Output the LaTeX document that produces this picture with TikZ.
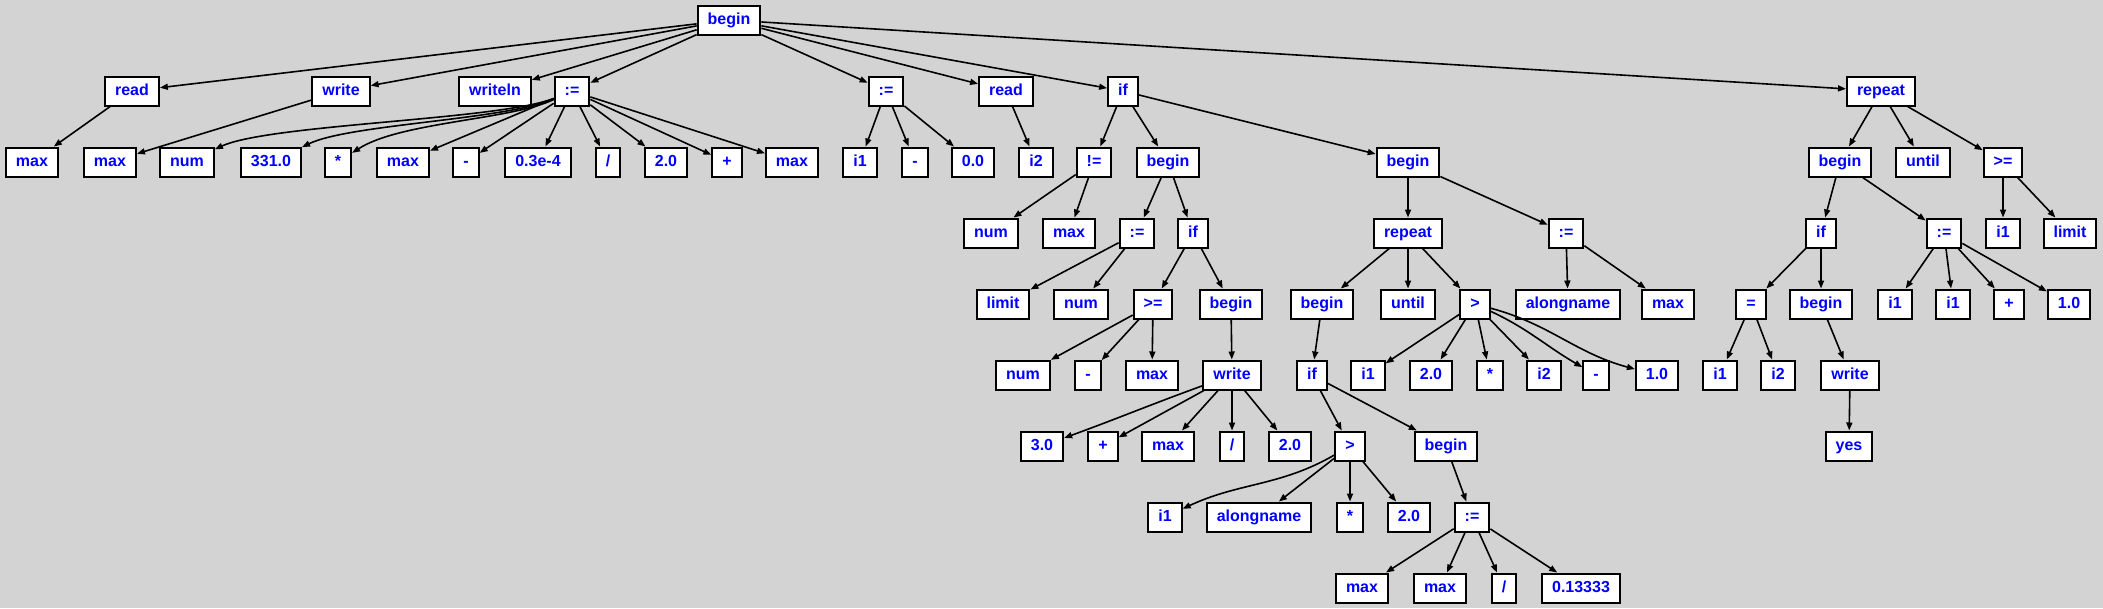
\documentclass[tikz,border=0pt]{standalone}
\usepackage{fontspec}
\setsansfont{Liberation Sans}
\usetikzlibrary{arrows.meta}
\definecolor{bggray}{HTML}{D3D3D3}

\begin{document}
\begin{tikzpicture}[x=1pt,y=1pt,
	box/.style={draw=black,fill=white,line width=2pt,text=blue,font=\sffamily\bfseries\fontsize{16}{16}\selectfont,minimum height=29pt,inner xsep=10pt,inner ysep=0pt,text height=11.5pt,text depth=3.5pt},
	edge/.style={line width=1.6pt,-{Triangle[length=8pt,width=6pt]}}]
	\fill[bggray] (0,0) rectangle (2103,-608);
	\useasboundingbox (0,0) rectangle (2103,-608);
	\node[box] (root) at (729,-20) {begin};
	\node[box] (rd) at (132,-91) {read};
	\node[box] (wr) at (341,-91) {write};
	\node[box] (wln) at (495,-91) {writeln};
	\node[box] (asA) at (572,-91) {:=};
	\node[box] (asB) at (886,-91) {:=};
	\node[box] (rdB) at (1006,-91) {read};
	\node[box] (ifA) at (1123,-91) {if};
	\node[box] (rep) at (1881,-91) {repeat};
	\node[box] (mxA) at (32,-162) {max};
	\node[box] (mxB) at (110,-162) {max};
	\node[box] (numA) at (187,-162) {num};
	\node[box] (cA) at (271,-162) {331.0};
	\node[box] (mulA) at (338,-162) {*};
	\node[box] (mxC) at (403,-162) {max};
	\node[box] (subA) at (466,-162) {-};
	\node[box] (cB) at (538,-162) {0.3e-4};
	\node[box] (divA) at (608,-162) {/};
	\node[box] (cC) at (666,-162) {2.0};
	\node[box] (addA) at (727,-162) {+};
	\node[box] (mxD) at (792,-162) {max};
	\node[box] (iA) at (860,-162) {i1};
	\node[box] (subB) at (915,-162) {-};
	\node[box] (cD) at (973,-162) {0.0};
	\node[box] (iB) at (1036,-162) {i2};
	\node[box] (neA) at (1094,-162) {!=};
	\node[box] (bgA) at (1168,-162) {begin};
	\node[box] (bgB) at (1408,-162) {begin};
	\node[box] (bgC) at (1840,-162) {begin};
	\node[box] (untA) at (1923,-162) {until};
	\node[box] (geA) at (2003,-162) {>=};
	\node[box] (numB) at (991,-233) {num};
	\node[box] (mxE) at (1069,-233) {max};
	\node[box] (asC) at (1137,-233) {:=};
	\node[box] (ifB) at (1193,-233) {if};
	\node[box] (repB) at (1408,-233) {repeat};
	\node[box] (asD) at (1566,-233) {:=};
	\node[box] (ifC) at (1821,-233) {if};
	\node[box] (asE) at (1944,-233) {:=};
	\node[box] (iC) at (2003,-233) {i1};
	\node[box] (limA) at (2070,-233) {limit};
	\node[box] (limB) at (1003,-304) {limit};
	\node[box] (numC) at (1081,-304) {num};
	\node[box] (geB) at (1153,-304) {>=};
	\node[box] (bgD) at (1231,-304) {begin};
	\node[box] (bgE) at (1322,-304) {begin};
	\node[box] (untB) at (1408,-304) {until};
	\node[box] (gtA) at (1475,-304) {>};
	\node[box] (alA) at (1568,-304) {alongname};
	\node[box] (mxF) at (1668,-304) {max};
	\node[box] (eqA) at (1751,-304) {=};
	\node[box] (bgF) at (1821,-304) {begin};
	\node[box] (iD) at (1895,-304) {i1};
	\node[box] (iE) at (1953,-304) {i1};
	\node[box] (addB) at (2009,-304) {+};
	\node[box] (cE) at (2069,-304) {1.0};
	\node[box] (numD) at (1023,-375) {num};
	\node[box] (subC) at (1088,-375) {-};
	\node[box] (mxG) at (1152,-375) {max};
	\node[box] (wrB) at (1232,-375) {write};
	\node[box] (ifD) at (1312,-375) {if};
	\node[box] (iF) at (1368,-375) {i1};
	\node[box] (cF) at (1431,-375) {2.0};
	\node[box] (mulB) at (1490,-375) {*};
	\node[box] (iG) at (1544,-375) {i2};
	\node[box] (subD) at (1596,-375) {-};
	\node[box] (cG) at (1657,-375) {1.0};
	\node[box] (iH) at (1720,-375) {i1};
	\node[box] (iI) at (1778,-375) {i2};
	\node[box] (wrC) at (1850,-375) {write};
	\node[box] (cH) at (1042,-446) {3.0};
	\node[box] (addC) at (1103,-446) {+};
	\node[box] (mxH) at (1168,-446) {max};
	\node[box] (divB) at (1232,-446) {/};
	\node[box] (cI) at (1290,-446) {2.0};
	\node[box] (gtB) at (1350,-446) {>};
	\node[box] (bgG) at (1446,-446) {begin};
	\node[box] (yes) at (1849,-446) {yes};
	\node[box] (iJ) at (1165,-517) {i1};
	\node[box] (alB) at (1259,-517) {alongname};
	\node[box] (mulC) at (1350,-517) {*};
	\node[box] (cJ) at (1409,-517) {2.0};
	\node[box] (asF) at (1472,-517) {:=};
	\node[box] (mxI) at (1362,-588) {max};
	\node[box] (mxJ) at (1440,-588) {max};
	\node[box] (divC) at (1504,-588) {/};
	\node[box] (cK) at (1581,-588) {0.13333};
	\draw[edge] (root) -- (rd);
	\draw[edge] (root) -- (wr);
	\draw[edge] (root) -- (wln);
	\draw[edge] (root) -- (asA);
	\draw[edge] (root) -- (asB);
	\draw[edge] (root) -- (rdB);
	\draw[edge] (root) -- (ifA);
	\draw[edge] (root) -- (rep);
	\draw[edge] (rd) -- (mxA);
	\draw[edge] (wr) -- (mxB);
	\draw[edge] (asA) .. controls (500,-120) and (270,-124) .. (numA);
	\draw[edge] (asA) .. controls (505,-120) and (350,-124) .. (cA);
	\draw[edge] (asA) .. controls (510,-120) and (400,-122) .. (mulA);
	\draw[edge] (asA) -- (mxC);
	\draw[edge] (asA) -- (subA);
	\draw[edge] (asA) -- (cB);
	\draw[edge] (asA) -- (divA);
	\draw[edge] (asA) -- (cC);
	\draw[edge] (asA) -- (addA);
	\draw[edge] (asA) -- (mxD);
	\draw[edge] (asB) -- (iA);
	\draw[edge] (asB) -- (subB);
	\draw[edge] (asB) -- (cD);
	\draw[edge] (rdB) -- (iB);
	\draw[edge] (ifA) -- (neA);
	\draw[edge] (ifA) -- (bgA);
	\draw[edge] (ifA) -- (bgB);
	\draw[edge] (rep) -- (bgC);
	\draw[edge] (rep) -- (untA);
	\draw[edge] (rep) -- (geA);
	\draw[edge] (neA) -- (numB);
	\draw[edge] (neA) -- (mxE);
	\draw[edge] (bgA) -- (asC);
	\draw[edge] (bgA) -- (ifB);
	\draw[edge] (bgB) -- (repB);
	\draw[edge] (bgB) -- (asD);
	\draw[edge] (bgC) -- (ifC);
	\draw[edge] (bgC) -- (asE);
	\draw[edge] (geA) -- (iC);
	\draw[edge] (geA) -- (limA);
	\draw[edge] (asC) -- (limB);
	\draw[edge] (asC) -- (numC);
	\draw[edge] (ifB) -- (geB);
	\draw[edge] (ifB) -- (bgD);
	\draw[edge] (repB) -- (bgE);
	\draw[edge] (repB) -- (untB);
	\draw[edge] (repB) -- (gtA);
	\draw[edge] (asD) -- (alA);
	\draw[edge] (asD) -- (mxF);
	\draw[edge] (ifC) -- (eqA);
	\draw[edge] (ifC) -- (bgF);
	\draw[edge] (asE) -- (iD);
	\draw[edge] (asE) -- (iE);
	\draw[edge] (asE) -- (addB);
	\draw[edge] (asE) -- (cE);
	\draw[edge] (geB) -- (numD);
	\draw[edge] (geB) -- (subC);
	\draw[edge] (geB) -- (mxG);
	\draw[edge] (bgD) -- (wrB);
	\draw[edge] (bgE) -- (ifD);
	\draw[edge] (gtA) -- (iF);
	\draw[edge] (gtA) -- (cF);
	\draw[edge] (gtA) -- (mulB);
	\draw[edge] (gtA) -- (iG);
	\draw[edge] (gtA) to[out=-25,in=150] (subD);
	\draw[edge] (gtA) to[out=-15,in=165] (cG);
	\draw[edge] (eqA) -- (iH);
	\draw[edge] (eqA) -- (iI);
	\draw[edge] (bgF) -- (wrC);
	\draw[edge] (wrB) to[out=200,in=20] (cH);
	\draw[edge] (wrB) -- (addC);
	\draw[edge] (wrB) -- (mxH);
	\draw[edge] (wrB) -- (divB);
	\draw[edge] (wrB) -- (cI);
	\draw[edge] (ifD) -- (gtB);
	\draw[edge] (ifD) -- (bgG);
	\draw[edge] (wrC) -- (yes);
	\draw[edge] (gtB) to[out=210,in=25] (iJ);
	\draw[edge] (gtB) -- (alB);
	\draw[edge] (gtB) -- (mulC);
	\draw[edge] (gtB) -- (cJ);
	\draw[edge] (bgG) -- (asF);
	\draw[edge] (asF) -- (mxI);
	\draw[edge] (asF) -- (mxJ);
	\draw[edge] (asF) -- (divC);
	\draw[edge] (asF) -- (cK);
\end{tikzpicture}
\end{document}
